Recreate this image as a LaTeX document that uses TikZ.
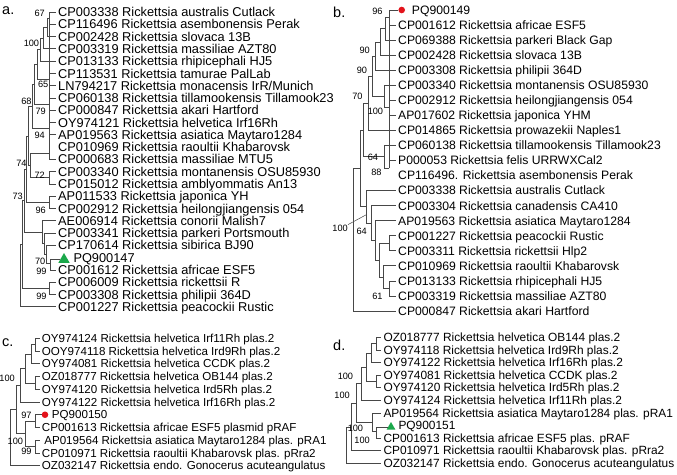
\documentclass[tikz,border=0pt]{standalone}
\usepackage{fontspec}
\setmainfont{Liberation Sans}
\usetikzlibrary{shapes.geometric}
\definecolor{dotred}{HTML}{E3131B}
\definecolor{trigreen}{HTML}{1BA84B}

\begin{document}
\begin{tikzpicture}[x=1pt, y=-1pt,
  leaf/.style={anchor=west, inner xsep=2pt, inner ysep=0pt},
  leafa/.style={leaf, text height=10pt, text depth=0.8pt, font=\fontsize{12.8}{13}\selectfont},
  leafb/.style={leaf, text height=9.5pt, text depth=0.8pt, font=\fontsize{12.2}{13}\selectfont},
  leafc/.style={leaf, text height=9.05pt, text depth=0.75pt, font=\fontsize{11.6}{12}\selectfont},
  leafd/.style={leaf, text height=9.3pt, text depth=0.75pt, font=\fontsize{11.9}{12}\selectfont},
  boot/.style={anchor=east, inner sep=0pt, text height=6.4pt, text depth=0pt, font=\fontsize{9.2}{10}\selectfont},
  panel/.style={anchor=west, inner sep=0pt, font=\fontsize{14.5}{15}\selectfont},
  br/.style={draw=black!72, line width=0.75pt},
  dot/.style={circle, fill=dotred, inner sep=0pt, minimum size=6.6pt},
  tri/.style={regular polygon, regular polygon sides=3, fill=trigreen, inner sep=0pt}]
\useasboundingbox (0,0) rectangle (677,474);

% panel labels
\node[panel] (pa) at (2,11) {a.};
\node[panel] (pb) at (333,12) {b.};
\node[panel] (pc) at (2,343) {c.};
\node[panel] (pd) at (333,345) {d.};

% ---------------- a.
\foreach \x/\t [count=\i] in {
  56/CP003338 Rickettsia australis Cutlack,
  56/CP116496 Rickettsia asembonensis Perak,
  56/CP002428 Rickettsia slovaca 13B,
  56/CP003319 Rickettsia massiliae AZT80,
  56/CP013133 Rickettsia rhipicephali HJ5,
  56/CP113531 Rickettsia tamurae PalLab,
  56/{LN794217 Rickettsia monacensis IrR/Munich},
  56/CP060138 Rickettsia tillamookensis Tillamook23,
  56/CP000847 Rickettsia akari Hartford,
  56/OY974121 Rickettsia helvetica Irf16Rh,
  56/AP019563 Rickettsia asiatica Maytaro1284,
  56/CP010969 Rickettsia raoultii Khabarovsk,
  56/CP000683 Rickettsia massiliae MTU5,
  56/CP003340 Rickettsia montanensis OSU85930,
  56/CP015012 Rickettsia amblyommatis An13,
  56/AP011533 Rickettsia japonica YH,
  56/CP002912 Rickettsia heilongjiangensis 054,
  56/AE006914 Rickettsia conorii Malish7,
  56/CP003341 Rickettsia parkeri Portsmouth,
  56/CP170614 Rickettsia sibirica BJ90,
  71.3/PQ900147,
  56/CP001612 Rickettsia africae ESF5,
  56/CP006009 Rickettsia rickettsii R,
  56/CP003308 Rickettsia philipii 364D,
  56/CP001227 Rickettsia peacockii Rustic}
  \node[leafa] (a\i) at (\x, {12+(\i-1)*12.28}) {\t};
\node[tri, minimum size=13pt] (a21m) at (64,259.5) {};

\coordinate (a12) at (49.5,18.14);
\coordinate (a123) at (47,27.35);
\coordinate (a1234) at (43.5,38.1);
\coordinate (a1to5) at (40.5,49.61);
\coordinate (a67) at (49,79.54);
\coordinate (a1to7) at (37,64.58);
\coordinate (a89) at (49,104.1);
\coordinate (a1to9) at (34.5,84.34);
\coordinate (a1011) at (49,128.66);
\coordinate (a1to11) at (32,106.5);
\coordinate (a1213) at (49,153.22);
\coordinate (a1415) at (49,177.78);
\coordinate (a12to15) at (30,165.5);
\coordinate (a1to15) at (28,136);
\coordinate (a1617) at (49,202.34);
\coordinate (a1to17) at (26,169.17);
\coordinate (a2122) at (50,263.74);
\coordinate (a20to22) at (46.5,254.53);
\coordinate (a19to22) at (44,243.79);
\coordinate (a18to22) at (42,232.28);
\coordinate (a1to22) at (24,200.7);
\coordinate (a2324) at (49,288.3);
\coordinate (a1to24) at (22.5,244.5);
\coordinate (aroot) at (20.5,275.6);

\foreach \p/\c in {a12/a1.west, a12/a2.west, a123/a12, a123/a3.west, a1234/a123, a1234/a4.west,
  a1to5/a1234, a1to5/a5.west, a67/a6.west, a67/a7.west, a1to7/a1to5, a1to7/a67,
  a89/a8.west, a89/a9.west, a1to9/a1to7, a1to9/a89, a1011/a10.west, a1011/a11.west,
  a1to11/a1to9, a1to11/a1011, a1213/a12.west, a1213/a13.west, a1415/a14.west, a1415/a15.west,
  a12to15/a1213, a12to15/a1415, a1to15/a1to11, a1to15/a12to15,
  a1617/a16.west, a1617/a17.west, a1to17/a1to15, a1to17/a1617,
  a2122/a21m.west, a2122/a22.west, a20to22/a20.west, a20to22/a2122,
  a19to22/a19.west, a19to22/a20to22, a18to22/a18.west, a18to22/a19to22,
  a1to22/a1to17, a1to22/a18to22, a2324/a23.west, a2324/a24.west,
  a1to24/a1to22, a1to24/a2324, aroot/a1to24, aroot/a25.west}
  \draw[br] (\p) |- (\c);

\node[boot] (la67) at (45,13) {67};
\node[boot] (la100) at (39.3,43) {100};
\node[boot] (la65) at (48.5,84) {65};
\node[boot] (la68) at (31.7,101) {68};
\node[boot] (la79) at (46,111) {79};
\node[boot] (la94) at (45,135) {94};
\node[boot] (la74) at (26.7,163) {74};
\node[boot] (la72) at (45,175) {72};
\node[boot] (la73) at (23,196) {73};
\node[boot] (la96) at (46,210) {96};
\node[boot] (la70) at (45.5,261.5) {70};
\node[boot] (la99a) at (46.7,271.7) {99};
\node[boot] (la99b) at (46.7,296) {99};

% ---------------- b.
\foreach \x/\t [count=\i] in {
  409.7/PQ900149,
  396/CP001612 Rickettsia africae ESF5,
  396/CP069388 Rickettsia parkeri Black Gap,
  396/CP002428 Rickettsia slovaca 13B,
  396/CP003308 Rickettsia philipii 364D,
  396/CP003340 Rickettsia montanensis OSU85930,
  396/CP002912 Rickettsia heilongjiangensis 054,
  396/AP017602 Rickettsia japonica YHM,
  396/CP014865 Rickettsia prowazekii Naples1,
  396/CP060138 Rickettsia tillamookensis Tillamook23,
  396/P000053 Rickettsia felis URRWXCal2,
  396/CP116496. Rickettsia asembonensis Perak,
  396/CP003338 Rickettsia australis Cutlack,
  396/CP003304 Rickettsia canadensis CA410,
  396/AP019563 Rickettsia asiatica Maytaro1284,
  396/CP001227 Rickettsia peacockii Rustic,
  396/CP003311 Rickettsia rickettsii Hlp2,
  396/CP010969 Rickettsia raoultii Khabarovsk,
  396/CP013133 Rickettsia rhipicephali HJ5,
  396/CP003319 Rickettsia massiliae AZT80,
  396/CP000847 Rickettsia akari Hartford}
  \node[leafb] (b\i) at (\x, {10+(\i-1)*15.05}) {\t};
\node[dot] (b1m) at (401.7,10) {};

\coordinate (b12) at (389.3,17.53);
\coordinate (b123) at (385,28.8);
\coordinate (b1to4) at (380,41.98);
\coordinate (b1to5) at (375,56.09);
\coordinate (b78) at (389.3,107.83);
\coordinate (b6to8) at (384,96.54);
\coordinate (b1to8) at (372,76.3);
\coordinate (b1to9) at (368.3,103.35);
\coordinate (b1112) at (389.3,168.03);
\coordinate (b10to12) at (384,156.74);
\coordinate (b1to12) at (363.3,130.05);
\coordinate (b1920) at (389.3,288.43);
\coordinate (b18to20) at (383.3,277.14);
\coordinate (b1617) at (389.3,243.28);
\coordinate (b16to20) at (379,260.21);
\coordinate (b15to20) at (375,240.46);
\coordinate (b14to20) at (371,223.06);
\coordinate (b13to20) at (366.7,206.83);
\coordinate (b1to20) at (360,168.44);
\coordinate (broot) at (353,239.72);

\foreach \p/\c in {b12/b1m.west, b12/b2.west, b123/b12, b123/b3.west, b1to4/b123, b1to4/b4.west,
  b1to5/b1to4, b1to5/b5.west, b78/b7.west, b78/b8.west, b6to8/b6.west, b6to8/b78,
  b1to8/b1to5, b1to8/b6to8, b1to9/b1to8, b1to9/b9.west,
  b1112/b11.west, b1112/b12.west, b10to12/b10.west, b10to12/b1112,
  b1to12/b1to9, b1to12/b10to12,
  b1920/b19.west, b1920/b20.west, b18to20/b18.west, b18to20/b1920,
  b1617/b16.west, b1617/b17.west, b16to20/b1617, b16to20/b18to20,
  b15to20/b15.west, b15to20/b16to20, b14to20/b14.west, b14to20/b15to20,
  b13to20/b13.west, b13to20/b14to20, b1to20/b1to12, b1to20/b13to20,
  broot/b1to20, broot/b21.west}
  \draw[br] (\p) |- (\c);

\node[boot] (lb96) at (382.7,11.7) {96};
\node[boot] (lb90a) at (370,50) {90};
\node[boot] (lb90b) at (367.3,70) {90};
\node[boot] (lb70) at (362.7,96.7) {70};
\node[boot] (lb100a) at (383.3,111.7) {100};
\node[boot] (lb64a) at (378.3,157) {64};
\node[boot] (lb88) at (381.7,172) {88};
\node[boot] (lb100b) at (348,228) {100};
\node[boot] (lb64b) at (367,231.5) {64};
\node[boot] (lb61) at (382.7,296.7) {61};
\coordinate (blead) at (366.7,214.5);
\draw[br, line width=0.5pt] (lb100b.north east) -- (blead);

% ---------------- c.
\foreach \x/\t [count=\i] in {
  39.7/OY974124 Rickettsia helvetica Irf11Rh plas.2,
  39.7/OOY974118 Rickettsia helvetica Ird9Rh plas.2,
  39.7/OY974081 Rickettsia helvetica CCDK plas.2,
  39.7/OZ018777 Rickettsia helvetica OB144 plas.2,
  39.7/OY974120 Rickettsia helvetica Ird5Rh plas.2,
  39.7/OY974122 Rickettsia helvetica Irf16Rh plas.2,
  49.7/PQ900150,
  39.7/CP001613 Rickettsia africae ESF5 plasmid pRAF,
  39.7/\hspace*{2.4pt}AP019564 Rickettsia asiatica Maytaro1284 plas. pRA1,
  39.7/CP010971 Rickettsia raoultii Khabarovsk plas. pRra2,
  39.7/OZ032147 Rickettsia endo. Gonocerus acuteangulatus}
  \node[leafc] (c\i) at (\x, {338.3+(\i-1)*12.74}) {\t};
\node[dot] (c7m) at (45,414.74) {};

\coordinate (c12) at (35,344.67);
\coordinate (c123) at (31.7,354.23);
\coordinate (c45) at (35,382.89);
\coordinate (c1to5) at (25,368.56);
\coordinate (c1to6) at (20,385.28);
\coordinate (c78) at (35,421.11);
\coordinate (c910) at (35,446.59);
\coordinate (c7to10) at (25,433.85);
\coordinate (c1to10) at (16,409.57);
\coordinate (croot) at (10,437.63);

\foreach \p/\c in {c12/c1.west, c12/c2.west, c123/c12, c123/c3.west, c45/c4.west, c45/c5.west,
  c1to5/c123, c1to5/c45, c1to6/c1to5, c1to6/c6.west, c78/c7m.west, c78/c8.west,
  c910/c9.west, c910/c10.west, c7to10/c78, c7to10/c910, c1to10/c1to6, c1to10/c7to10,
  croot/c1to10, croot/c11.west}
  \draw[br] (\p) |- (\c);

\node[boot] (lc100a) at (15,378.3) {100};
\node[boot] (lc97) at (31.7,415) {97};
\node[boot] (lc100b) at (23.3,441.7) {100};
\node[boot] (lc99) at (31.7,451.7) {99};

% ---------------- d.
\foreach \x/\t [count=\i] in {
  381.3/OZ018777 Rickettsia helvetica OB144 plas.2,
  381.3/OY974118 Rickettsia helvetica Ird9Rh plas.2,
  381.3/OY974122 Rickettsia helvetica Irf16Rh plas.2,
  381.3/OY974081 Rickettsia helvetica CCDK plas.2,
  381.3/OY974120 Rickettsia helvetica Ird5Rh plas.2,
  381.3/OY974124 Rickettsia helvetica Irf11Rh plas.2,
  381.3/AP019564 Rickettsia asiatica Maytaro1284 plas. pRA1,
  396.3/PQ900151,
  381.3/CP001613 Rickettsia africae ESF5 plas. pRAF,
  381.3/CP010971 Rickettsia raoultii Khabarovsk plas. pRra2,
  381.3/OZ032147 Rickettsia endo. Gonocerus acuteangulatus}
  \node[leafd] (d\i) at (\x, {337.3+(\i-1)*12.6}) {\t};
\node[tri, minimum size=10pt] (d8m) at (391,427) {};

\coordinate (d12) at (376,343.6);
\coordinate (d123) at (371.7,353.05);
\coordinate (d45) at (376,381.4);
\coordinate (d1to5) at (366.7,367.23);
\coordinate (d1to6) at (361.7,383.76);
\coordinate (d89) at (376.7,431.8);
\coordinate (d7to9) at (372.5,422.35);
\coordinate (d1to9) at (356,403.06);
\coordinate (d1to10) at (351.7,426.88);
\coordinate (droot) at (346.7,445.09);

\foreach \p/\c in {d12/d1.west, d12/d2.west, d123/d12, d123/d3.west, d45/d4.west, d45/d5.west,
  d1to5/d123, d1to5/d45, d1to6/d1to5, d1to6/d6.west, d89/d8m.west, d89/d9.west,
  d7to9/d7.west, d7to9/d89, d1to9/d1to6, d1to9/d7to9, d1to10/d1to9, d1to10/d10.west,
  droot/d1to10, droot/d11.west}
  \draw[br] (\p) |- (\c);

\node[boot] (ld100a) at (353.3,376.7) {100};
\node[boot] (ld100b) at (350,395) {100};
\node[boot] (ld100c) at (363.3,428.3) {100};
\node[boot] (ld100d) at (370,440) {100};
\end{tikzpicture}
\end{document}
